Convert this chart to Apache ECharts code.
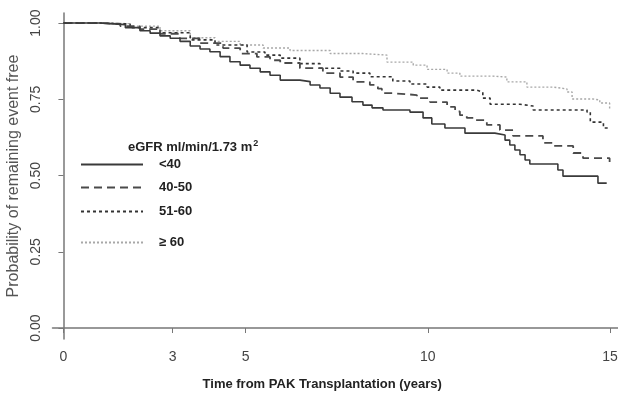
<!DOCTYPE html>
<html>
<head>
<meta charset="utf-8">
<script src="https://cdn.jsdelivr.net/npm/echarts@6/dist/echarts.min.js"></script>
<style>
  html, body { margin: 0; padding: 0; background: #fff; }
  #chart { width: 618px; height: 393px; }
</style>
</head>
<body>
<div id="chart"></div>
<script>
// Kaplan-Meier steps: [time in years, survival after the event]
const groupNames = ['<40', '40-50', '51-60', '≥ 60'];

const under40 = [
  [0, 1.0], [1.0, 0.998], [1.28, 0.995], [1.7, 0.985], [2.1, 0.975], [2.38, 0.967],
  [2.65, 0.958], [2.93, 0.95], [3.2, 0.94], [3.48, 0.925], [3.75, 0.915], [4.02, 0.906],
  [4.3, 0.89], [4.57, 0.873], [4.85, 0.862], [5.12, 0.852], [5.4, 0.84], [5.67, 0.829],
  [5.95, 0.813], [6.49, 0.808], [6.77, 0.797], [7.04, 0.787], [7.32, 0.77], [7.59, 0.757],
  [7.92, 0.742], [8.22, 0.731], [8.47, 0.722], [8.77, 0.715], [9.51, 0.708], [9.87, 0.689],
  [10.11, 0.669], [10.47, 0.656], [11.02, 0.639], [11.84, 0.633], [12.12, 0.616], [12.25, 0.6],
  [12.39, 0.584], [12.53, 0.568], [12.67, 0.551], [12.8, 0.538], [13.57, 0.518], [13.71, 0.498],
  [14.67, 0.475], [14.91, 0.475]
];

const from40to50 = [
  [0, 1.0], [1.0, 0.997], [1.56, 0.99], [2.1, 0.98], [2.65, 0.965], [3.2, 0.95],
  [3.75, 0.934], [4.38, 0.918], [4.85, 0.9], [5.31, 0.889], [5.67, 0.878], [5.95, 0.869],
  [6.49, 0.852], [7.12, 0.836], [7.59, 0.823], [7.95, 0.807], [8.41, 0.797], [8.63, 0.785],
  [8.74, 0.77], [9.04, 0.764], [9.7, 0.754], [10.06, 0.741], [10.53, 0.725], [10.75, 0.71],
  [10.88, 0.698], [11.07, 0.689], [11.3, 0.682], [11.62, 0.666], [11.98, 0.649], [12.34, 0.63],
  [13.16, 0.607], [13.44, 0.597], [13.99, 0.574], [14.26, 0.557], [14.99, 0.544], [15.0, 0.544]
];

const from51to60 = [
  [0, 1.0], [1.0, 0.997], [1.83, 0.985], [2.65, 0.968], [3.48, 0.945], [4.16, 0.928],
  [5.04, 0.905], [5.53, 0.895], [5.95, 0.885], [6.49, 0.867], [7.04, 0.852], [7.59, 0.843],
  [7.95, 0.836], [8.41, 0.824], [9.04, 0.81], [9.51, 0.8], [9.98, 0.79], [10.33, 0.78],
  [11.34, 0.774], [11.51, 0.754], [11.71, 0.734], [12.53, 0.728], [12.89, 0.715], [14.37, 0.708],
  [14.46, 0.675], [14.82, 0.656], [15.0, 0.656]
];

const over60 = [
  [0, 1.0], [1.0, 0.998], [1.83, 0.99], [2.65, 0.975], [3.48, 0.952], [4.16, 0.94],
  [4.85, 0.928], [5.48, 0.918], [6.22, 0.91], [7.32, 0.9], [8.22, 0.895], [8.88, 0.872],
  [9.6, 0.862], [9.98, 0.848], [10.53, 0.836], [10.88, 0.826], [11.79, 0.823], [12.17, 0.807],
  [12.72, 0.79], [13.44, 0.784], [13.82, 0.774], [13.96, 0.751], [14.53, 0.748], [14.72, 0.738],
  [14.99, 0.718], [15.0, 0.718]
];

const xTicks = [0, 3, 5, 10, 15];
const yTicks = [0, 0.25, 0.5, 0.75, 1];

const chart = echarts.init(document.getElementById('chart'));

const styles = [
  { color: '#3a3a3a', width: 1.6, type: 'solid' },
  { color: '#4a4a4a', width: 1.8, type: [8, 5] },
  { color: '#333333', width: 1.6, type: [3, 3] },
  { color: '#a8a8a8', width: 1.4, type: [2, 2] }
];
const seriesData = [under40, from40to50, from51to60, over60];

const legendTops = [158, 181, 205, 236];

const option = {
  animation: false,
  backgroundColor: '#fff',
  textStyle: { fontFamily: 'Liberation Sans, Arial, sans-serif' },
  title: {
    left: 123,
    top: 134,
    text: '{a|eGFR ml/min/1.73 m}{s|2}',
    textStyle: {
      rich: {
        a: { fontSize: 13, fontWeight: 'bold', color: '#222' },
        s: { fontSize: 9, fontWeight: 'bold', color: '#222', verticalAlign: 'top', padding: [0, 0, 8, 1] }
      }
    }
  },
  legend: groupNames.map((n, i) => ({
    data: [n],
    left: 80,
    top: legendTops[i],
    padding: 0,
    orient: 'vertical',
    itemWidth: 62,
    itemHeight: 14,
    itemGap: 0,
    itemStyle: { opacity: 0 },
    textStyle: { fontSize: 13, fontWeight: 'bold', color: '#222', padding: [0, 0, 0, 11] }
  })),
  grid: { left: 52.5, right: 0, top: 13, bottom: 54, outerBoundsMode: 'none', containLabel: false },
  xAxis: {
    type: 'value',
    min: -0.3,
    max: 15.22,
    name: 'Time from PAK Transplantation (years)',
    nameLocation: 'middle',
    nameGap: 39,
    nameTextStyle: { fontSize: 13, fontWeight: 'bold', color: '#222', padding: [0, 26, 0, 0] },
    axisLine: { lineStyle: { color: '#777', width: 1.5 } },
    axisTick: { customValues: xTicks, length: 5, lineStyle: { color: '#777' } },
    axisLabel: { customValues: xTicks, fontSize: 14, color: '#444', margin: 11 },
    splitLine: { show: false }
  },
  yAxis: {
    type: 'value',
    min: -0.036,
    max: 1.033,
    name: 'Probability of remaining event free',
    nameLocation: 'middle',
    nameGap: 30,
    nameTextStyle: { fontSize: 16, color: '#555' },
    axisLine: { show: true, lineStyle: { color: '#777', width: 1.5 } },
    axisTick: { show: true, customValues: yTicks, length: 5, lineStyle: { color: '#777' } },
    axisLabel: {
      customValues: yTicks,
      rotate: 90,
      fontSize: 14,
      color: '#444',
      margin: 9,
      formatter: v => v.toFixed(2)
    },
    splitLine: { show: false }
  },
  series: groupNames.map((n, i) => ({
    name: n,
    type: 'line',
    step: 'end',
    symbol: 'none',
    data: seriesData[i],
    itemStyle: { color: styles[i].color },
    lineStyle: styles[i],
    z: 4 - i
  }))
};

chart.setOption(option);
</script>
</body>
</html>
